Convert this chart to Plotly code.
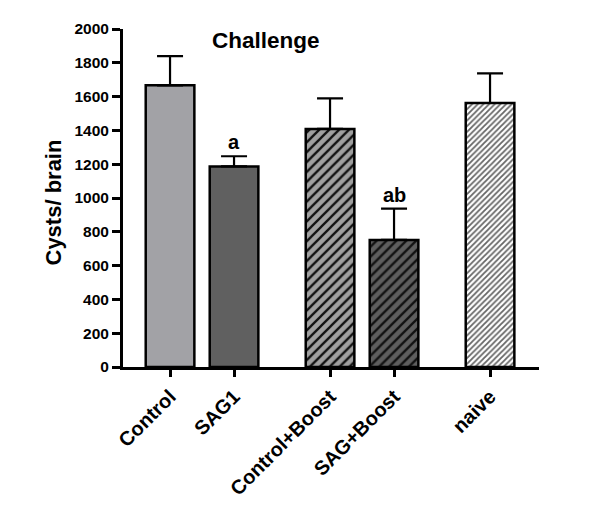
import plotly.graph_objects as go

categories = ["Control", "SAG1", "Control+Boost", "SAG+Boost", "naive"]
positions = [0, 1, 2.5, 3.5, 5]
means = [1667, 1187, 1409, 752, 1562]
errors = [173, 60, 180, 185, 176]
letters = ["", "a", "", "ab", ""]

fills = ["#a2a2a6", "#606060", "#a0a0a0", "#5e5e5e", "#ffffff"]
shapes = ["", "", "/", "/", "/"]
fgcols = ["#000000", "#000000", "#111111", "#111111", "#666666"]
sizes = [8, 8, 7, 7, 4]
sol = [0.3, 0.3, 0.33, 0.33, 0.45]

FONT = "Liberation Sans, Arial, sans-serif"

fig = go.Figure()
for i in range(len(categories)):
    pat = dict(shape=shapes[i])
    if shapes[i]:
        pat.update(fgcolor=fgcols[i], bgcolor=fills[i], size=sizes[i],
                   solidity=sol[i], fillmode="replace")
    fig.add_trace(go.Bar(
        x=[positions[i]], y=[means[i]], width=0.76, name=categories[i],
        marker=dict(color=fills[i], line=dict(color="black", width=2.5),
                    pattern=pat),
        error_y=dict(type="data", array=[errors[i]], arrayminus=[0], symmetric=False,
                     color="black", thickness=2.2, width=13),
        showlegend=False,
    ))

for p, m, e, t in zip(positions, means, errors, letters):
    if t:
        fig.add_annotation(x=p, y=m + e, text=f"<b>{t}</b>", showarrow=False,
                           yanchor="bottom", yshift=1,
                           font=dict(family=FONT, size=20, color="black"))

fig.add_annotation(xref="paper", yref="paper", x=0.344, y=0.965,
                   xanchor="center", yanchor="middle",
                   text="<b>Challenge</b>", showarrow=False,
                   font=dict(family=FONT, size=22.5, color="black"))
fig.add_annotation(xref="paper", yref="paper", x=-0.168, y=0.487,
                   xanchor="center", yanchor="middle",
                   text="<b>Cysts/ brain</b>", textangle=-90, showarrow=False,
                   font=dict(family=FONT, size=22, color="black"))

fig.update_xaxes(range=[-0.735, 5.765], tickmode="array", tickvals=positions,
                 ticktext=[f"<b>{c}</b>" for c in categories], tickangle=-45,
                 ticks="outside", ticklen=7, tickwidth=2.5, tickcolor="black",
                 showline=True, linecolor="black", linewidth=3,
                 showgrid=False, zeroline=False,
                 tickfont=dict(family=FONT, size=20, color="black"))
fig.update_yaxes(range=[0, 2000], tickmode="array",
                 tickvals=list(range(0, 2001, 200)),
                 ticktext=[f"<b>{v}</b>" for v in range(0, 2001, 200)],
                 ticks="outside", ticklen=8, tickwidth=2.5, tickcolor="black",
                 showline=True, linecolor="black", linewidth=3,
                 showgrid=False, zeroline=False,
                 tickfont=dict(family=FONT, size=15.5, color="black"))

fig.update_layout(width=600, height=515, plot_bgcolor="white", paper_bgcolor="white",
                  margin=dict(l=115, r=69, t=18, b=156), barmode="overlay")

fig.write_html("out.html")
